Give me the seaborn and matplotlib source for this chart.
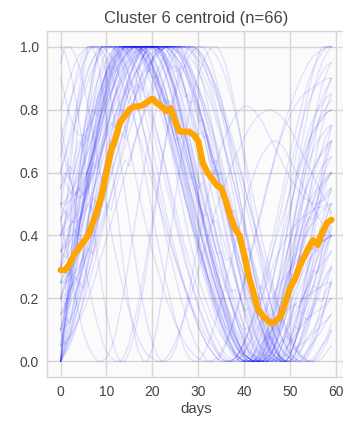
import numpy as np
import pandas as pd
import matplotlib
matplotlib.use("Agg")
import matplotlib.pyplot as plt
import seaborn as sns

title = "Cluster 6 centroid (n=66)"
xlabel = "days"
x_ticks = [0, 10, 20, 30, 40, 50, 60]
y_ticks = [0.0, 0.2, 0.4, 0.6, 0.8, 1.0]

days = list(range(60))

centroid = [0.29, 0.29, 0.31, 0.34, 0.36, 0.38, 0.40, 0.44, 0.48, 0.53,
            0.60, 0.67, 0.71, 0.76, 0.78, 0.80, 0.81, 0.81, 0.815, 0.825,
            0.835, 0.82, 0.81, 0.795, 0.805, 0.76, 0.73, 0.73, 0.73, 0.72,
            0.70, 0.63, 0.60, 0.58, 0.56, 0.55, 0.51, 0.46, 0.42, 0.40,
            0.34, 0.27, 0.22, 0.165, 0.145, 0.13, 0.12, 0.13, 0.145, 0.19,
            0.235, 0.26, 0.30, 0.33, 0.36, 0.385, 0.37, 0.41, 0.44, 0.45]

# member series, values in percent
members_pct = [
    [0,8,17,26,35,44,53,62,71,79, 86,92,96,99,100,100,100,100,99,97, 94,90,86,81,76,70,64,58,52,46, 40,34,28,23,18,13,9,5,2,0, 0,2,5,9,14,19,25,31,37,43, 49,55,60,65,69,73,76,79,81,83],
    [30,32,35,39,44,50,56,62,68,74, 80,85,90,94,97,99,100,100,100,100, 100,100,99,97,94,90,86,81,76,70, 64,58,52,46,40,34,29,24,19,15, 11,7,4,2,0,0,1,3,6,10, 14,18,22,26,30,34,38,42,46,50],
    [60,66,72,78,84,89,93,96,98,100, 100,100,100,100,100,99,97,94,90,85, 79,73,67,60,53,46,40,34,28,23, 18,14,10,7,4,2,1,0,0,1, 3,6,10,15,21,27,34,41,48,55, 61,67,73,78,82,86,89,92,94,95],
    [0,4,8,13,18,23,28,33,38,43, 48,53,58,63,68,73,78,83,88,92, 96,99,100,100,100,100,98,95,91,87, 82,77,72,66,60,54,48,42,36,30, 25,20,15,11,8,5,3,1,0,0, 0,2,5,8,12,16,20,24,27,30],
    [45,50,55,61,67,73,79,84,89,93, 96,98,100,100,100,100,100,99,97,94, 90,86,81,76,71,65,59,53,47,41, 35,30,25,20,16,12,9,6,3,1, 0,0,2,5,9,13,18,23,28,33, 38,43,48,53,57,61,64,67,69,70],
    [20,18,22,27,25,31,36,34,40,45, 50,48,55,60,64,62,69,74,78,82, 86,89,93,95,98,100,100,100,100,98, 95,91,88,83,78,73,67,61,55,48, 41,35,28,22,16,11,6,3,1,0, 2,6,10,15,20,24,29,33,37,40],
    [80,85,90,94,97,99,100,100,100,100, 99,97,94,90,86,82,77,72,67,62, 57,52,47,42,37,32,28,24,20,16, 13,10,7,5,3,1,0,0,1,3, 6,10,15,20,26,32,38,45,52,59, 66,72,78,84,89,93,96,98,100,100],
    [0,10,20,31,42,53,63,72,80,87, 93,97,100,100,100,100,100,100,100,100, 100,100,98,94,89,83,77,70,63,56, 49,43,37,31,26,21,16,12,8,5, 3,1,0,0,0,2,5,9,13,18, 23,28,33,37,41,45,48,51,53,55],
    [35,36,38,41,45,49,54,59,64,69, 74,78,82,86,90,93,96,98,100,100, 100,100,100,100,99,97,95,92,88,84, 80,75,70,65,60,54,48,43,37,32, 27,22,18,14,10,7,4,2,1,0, 0,0,1,2,4,6,8,10,13,15],
    [10,14,12,19,25,23,31,38,44,50, 58,65,71,78,84,90,94,98,100,100, 100,100,98,95,90,86,80,74,69,63, 57,51,46,40,35,29,24,19,14,10, 7,4,2,0,0,0,3,7,12,18, 25,32,39,46,52,58,63,68,72,75],
    [50,47,45,44,45,47,50,54,58,63, 68,73,78,83,87,91,94,97,99,100, 100,100,100,100,100,100,98,96,93,89, 85,81,76,71,66,60,54,48,42,36, 30,24,19,14,10,6,3,1,0,0, 2,6,11,16,22,28,33,38,42,45],
    [5,12,20,28,37,46,55,64,73,81, 88,93,97,100,100,100,100,100,99,97, 94,90,85,80,74,68,62,56,50,44, 38,32,27,22,17,12,8,5,2,0, 0,0,2,6,11,17,24,31,39,47, 55,63,71,79,86,92,97,100,100,100],
    [25,25,26,28,30,33,37,41,45,50, 55,60,65,70,74,78,82,86,89,92, 95,97,99,100,100,100,100,100,100,99, 98,96,93,90,86,81,76,70,64,58, 52,46,40,34,28,22,17,12,8,5, 2,1,0,0,0,1,3,5,7,10],
    [0,12,25,38,52,65,77,88,96,100, 100,100,99,96,91,85,78,71,63,55, 47,39,32,25,19,13,8,4,1,0, 0,2,5,9,14,19,25,31,37,43, 49,54,59,63,66,68,70,70,69,67, 64,61,58,55,52,49,46,44,42,40],
    [100,98,93,86,77,67,56,45,34,24, 15,8,3,0,0,3,8,15,23,32, 42,52,62,71,80,87,93,97,100,100, 100,100,98,94,89,83,76,68,60,52, 44,36,29,22,16,11,7,4,1,0, 0,2,5,9,14,19,25,31,37,43],
    [40,43,47,52,57,62,67,72,77,82, 86,90,93,96,98,100,100,100,100,100, 100,98,95,91,86,81,75,69,63,57, 51,45,39,33,28,23,18,13,9,5, 2,0,0,0,1,4,8,13,18,24, 30,35,40,44,48,51,54,56,58,60],
    [15,17,20,24,29,34,40,46,52,58, 64,70,76,81,86,90,94,97,99,100, 100,100,100,100,100,99,97,94,90,85, 79,73,67,61,54,47,40,33,27,21, 15,10,6,3,1,0,0,1,4,9, 16,24,33,42,51,60,68,75,81,85],
    [0,3,6,10,14,19,24,29,35,41, 47,53,59,65,71,77,83,88,93,97, 100,100,100,100,100,100,100,97,93,88, 82,76,70,63,56,49,42,35,28,22, 16,11,7,4,2,0,0,0,2,5, 9,13,17,21,25,29,33,36,39,42],
    [55,58,62,60,66,72,70,77,83,88, 92,96,99,100,100,100,99,96,97,93, 90,91,86,82,83,77,71,72,66,60, 55,57,50,44,45,38,32,33,27,21, 16,17,11,6,3,0,1,0,4,8, 7,12,16,15,20,24,23,28,32,35],
    [20,26,32,38,45,52,59,66,73,80, 86,91,95,98,100,100,100,100,100,99, 97,94,90,85,79,73,67,61,55,49, 43,37,31,25,20,15,10,6,3,1, 0,0,0,2,5,9,13,17,21,25, 29,33,36,39,42,44,46,48,49,50],
    [70,76,82,87,91,95,98,100,100,100, 100,100,99,97,94,90,85,80,74,68, 62,56,50,44,38,33,28,23,19,15, 11,8,5,3,1,0,0,0,1,3, 6,10,14,19,24,29,34,39,44,49, 54,58,62,66,70,73,75,77,79,80],
    [0,2,5,9,14,20,27,34,42,50, 58,66,73,80,86,91,95,98,100,100, 100,100,100,100,99,97,95,92,89,85, 81,76,71,66,61,55,49,43,38,32, 27,22,17,13,9,6,3,1,0,0, 0,1,3,5,8,10,13,15,18,20],
    [30,45,60,74,86,95,100,100,96,88, 77,65,52,39,27,17,9,3,0,0, 4,11,20,30,41,52,62,71,79,86, 91,95,98,100,100,98,94,88,81,73, 64,55,46,38,30,23,17,12,8,5, 3,1,0,0,2,5,9,14,20,26],
    [10,16,23,31,40,49,58,67,75,82, 88,93,97,99,100,100,100,100,98,96, 93,89,85,80,75,70,65,59,54,48, 43,38,33,28,23,19,15,11,8,5, 3,1,0,0,0,1,3,7,12,18, 25,32,39,45,50,55,59,62,64,65],
    [40,41,43,45,48,51,55,59,63,67, 71,75,79,82,85,88,91,93,95,97, 98,99,100,100,100,100,100,99,97,95, 92,89,85,81,76,71,66,61,55,49, 43,37,31,25,20,15,11,7,4,2, 1,0,0,1,4,8,13,19,25,30],
    [0,14,29,44,58,71,82,91,97,100, 100,100,100,100,100,98,95,91,86,80, 74,68,62,56,50,44,38,32,27,22, 17,13,9,6,3,1,0,0,0,1, 3,5,8,11,14,17,20,23,25,27, 29,31,33,34,35,36,37,38,39,40],
    [60,57,54,53,54,57,61,66,71,76, 81,86,90,94,97,99,100,100,100,100, 100,100,99,96,92,87,81,75,68,61, 54,47,40,34,28,22,17,12,8,5, 2,1,0,0,0,2,6,12,19,27, 36,45,54,62,69,75,80,84,87,90],
    [25,29,27,34,39,37,45,52,50,58, 65,70,68,76,82,87,85,92,97,100, 100,99,100,96,93,94,88,84,85,78, 72,73,66,60,61,54,48,49,42,36, 30,31,24,18,12,7,8,3,0,2, 6,11,10,17,23,29,28,36,42,48],
    [90,84,78,74,72,72,74,77,81,85, 89,92,95,97,99,100,100,100,99,98, 96,93,89,85,80,74,68,62,56,50, 44,38,33,28,23,18,14,10,7,4, 2,1,0,0,0,2,5,9,13,17, 21,25,29,32,35,38,40,42,44,45],
    [5,6,8,10,13,16,20,24,29,34, 39,44,49,54,59,64,69,74,79,84, 88,92,95,98,100,100,100,100,100,100, 98,95,91,86,80,73,66,58,50,42, 34,27,20,14,9,5,2,0,0,0, 2,6,12,20,29,38,47,56,64,70],
    [50,58,66,74,81,87,92,96,99,100, 100,100,100,98,95,91,86,80,74,67, 60,53,46,39,33,27,21,16,11,7, 4,2,0,0,0,2,5,9,14,19, 25,31,37,43,49,55,61,67,72,77, 81,85,89,92,95,97,98,99,100,100],
    [0,5,11,18,26,34,43,52,61,69, 77,84,90,95,98,100,100,100,100,100, 100,100,100,100,99,96,92,87,81,75, 68,61,54,47,40,34,28,22,17,12, 8,5,2,1,0,0,0,1,4,8, 13,19,25,31,37,43,48,53,57,60],
    [35,38,42,46,51,56,61,66,71,76, 81,85,89,93,96,98,100,100,100,100, 100,100,98,95,91,87,82,77,71,65, 59,53,47,41,35,29,24,19,14,10, 6,3,1,0,0,1,3,6,10,14, 18,22,26,29,32,34,36,38,39,40],
    [15,16,18,21,25,30,35,41,47,53, 59,65,71,76,81,86,90,94,97,99, 100,100,100,100,100,100,99,97,94,91, 87,83,78,73,68,62,56,50,44,38, 32,27,22,17,13,9,6,3,1,0, 0,2,6,11,17,23,29,35,40,45],
    [75,68,60,51,42,33,25,18,12,7, 3,1,0,0,2,6,12,19,27,36, 45,54,63,71,78,85,90,94,97,99, 100,100,100,99,97,94,90,85,79,73, 66,59,52,45,38,32,26,20,15,11, 7,4,2,0,0,0,2,5,8,12],
    [20,24,29,35,42,49,57,65,72,79, 85,90,94,97,99,100,100,100,100,98, 95,91,87,82,76,70,64,57,50,44, 37,31,25,20,15,11,7,4,2,1, 0,0,0,2,5,10,16,23,31,39, 47,55,62,68,73,77,80,82,84,85],
    [45,48,46,51,55,53,58,63,61,67, 72,76,74,80,85,89,87,93,97,100, 100,100,99,100,96,92,93,87,82,83, 77,71,72,65,59,60,53,47,48,41, 35,36,29,23,24,17,11,6,0,3, 7,6,10,14,13,17,20,19,23,25],
    [0,20,42,62,79,92,99,100,100,97, 91,83,74,64,54,44,35,26,18,11, 6,2,0,0,1,4,9,15,22,30, 38,45,52,58,63,68,72,75,78,80, 81,81,80,78,76,73,70,67,64,61, 58,56,54,52,51,50,50,51,52,54],
    [30,36,43,50,57,64,71,77,83,88, 92,95,98,100,100,100,100,99,97,94, 90,86,81,76,70,64,58,52,46,40, 34,28,23,18,13,9,6,3,1,0, 0,0,1,3,6,10,14,19,24,29, 34,39,43,47,50,53,55,57,59,60],
    [10,11,13,16,20,25,31,37,44,51, 58,65,71,77,82,87,91,94,97,99, 100,100,100,100,100,100,100,98,95,91, 86,81,75,69,62,55,48,41,34,28, 22,17,12,8,5,2,1,0,0,1, 4,9,16,24,33,42,51,60,68,75],
    [65,73,81,88,94,98,100,100,100,99, 96,92,87,81,75,68,61,54,47,41, 35,30,25,20,16,12,9,6,4,2, 1,0,0,0,1,3,6,10,15,20, 26,32,38,44,50,56,61,66,71,75, 78,81,83,85,86,87,88,89,90,90],
    [0,4,9,15,22,30,38,47,56,65, 73,80,86,91,95,98,100,100,100,100, 100,99,97,94,90,85,79,73,67,60, 53,46,40,34,28,23,18,14,10,7, 4,2,1,0,0,0,1,3,6,9, 12,15,18,21,24,27,29,31,33,35],
    [40,45,51,57,63,69,75,81,86,91, 95,98,100,100,100,100,100,99,97,95, 92,89,86,82,78,74,70,66,61,56, 51,46,41,36,31,27,23,19,15,12, 9,7,5,3,2,1,0,0,1,2, 3,4,5,6,7,9,10,12,13,15],
    [25,28,32,37,43,49,56,63,70,77, 83,88,92,95,97,99,100,100,100,100, 100,100,98,95,91,86,80,73,66,59, 52,45,38,31,25,19,14,9,5,2, 0,0,0,1,4,8,14,21,29,38, 47,56,65,73,80,86,91,95,98,100],
    [50,50,51,53,55,58,61,65,69,73, 77,81,85,88,91,94,96,98,99,100, 100,100,100,100,100,99,98,96,93,90, 87,83,79,74,69,64,58,52,46,40, 34,28,23,18,13,9,6,3,1,0, 0,0,2,6,11,17,23,29,35,40],
    [10,5,8,15,24,34,45,56,66,75, 83,90,95,98,100,100,100,100,100,98, 94,89,83,76,69,61,53,46,39,33, 27,22,18,14,11,8,6,4,2,1, 0,0,0,1,3,6,10,14,19,24, 29,34,38,42,45,48,50,52,54,55],
    [95,100,100,98,94,88,81,73,65,57, 49,41,34,27,21,16,11,7,4,2, 1,0,0,1,3,6,10,14,19,24, 29,34,39,44,49,53,57,61,65,68, 71,74,76,78,79,80,80,79,78,76, 74,71,68,65,62,59,56,53,50,47],
    [0,6,13,20,28,36,44,52,60,67, 74,80,85,90,94,97,99,100,100,100, 100,99,97,94,90,85,79,73,66,59, 52,45,38,32,26,20,15,11,7,4, 2,1,0,0,0,1,3,6,10,15, 21,27,33,39,45,51,56,61,66,70],
    [35,33,38,42,40,45,50,48,54,59, 57,63,68,73,71,78,83,88,86,92, 96,100,99,100,100,97,93,94,88,82, 76,77,70,63,64,57,50,43,44,37, 30,24,17,18,11,5,0,3,7,6, 12,18,17,24,30,36,35,42,47,50],
    [60,65,70,75,80,85,89,93,96,98, 100,100,100,100,99,97,94,91,87,82, 77,72,67,61,55,49,43,37,32,27, 22,18,14,10,7,4,2,1,0,0, 0,1,2,4,6,8,10,12,14,16, 17,18,19,20,21,22,23,24,25,25],
    [20,21,23,25,28,31,35,39,44,49, 54,59,64,69,74,79,83,87,91,94, 96,98,99,100,100,100,100,100,100,100, 99,97,94,91,87,83,78,73,68,62, 56,50,44,38,32,27,22,17,13,9, 6,4,2,1,0,0,0,1,3,5],
    [5,13,22,32,42,52,62,71,79,86, 92,96,99,100,100,100,100,98,95,91, 87,83,78,73,68,63,58,52,47,42, 37,32,27,23,19,15,11,8,5,3, 1,0,0,0,2,5,10,16,23,31, 39,47,54,61,66,71,75,78,79,80],
    [45,38,30,22,15,9,5,2,0,0, 1,4,9,16,24,33,42,51,60,68, 75,81,86,91,95,98,100,100,100,100, 99,97,94,90,85,79,73,66,59,52, 45,38,32,26,20,15,11,7,4,2, 1,0,0,1,3,6,10,15,20,25],
    [30,35,41,48,55,62,69,76,82,87, 91,94,97,99,100,100,100,100,99,97, 94,91,87,83,78,73,68,62,56,50, 44,38,32,27,22,17,13,9,6,3, 1,0,0,0,1,3,6,10,15,21, 28,36,44,52,60,68,75,81,86,90],
    [0,3,7,12,18,25,33,41,49,57, 65,72,79,85,90,94,97,99,100,100, 100,100,100,99,97,94,91,87,82,77, 71,65,59,53,47,41,36,31,26,21, 17,13,9,6,4,2,1,0,0,0, 1,3,6,10,14,18,22,25,28,30],
    [55,60,58,65,70,68,75,80,78,85, 90,94,92,97,100,100,98,100,96,92, 93,87,82,83,76,70,71,64,58,59, 52,46,47,40,34,35,28,22,23,16, 10,11,4,0,2,6,11,10,16,22, 28,27,34,40,46,45,52,58,62,65],
    [15,18,22,27,33,39,46,53,60,67, 73,79,84,88,92,95,97,99,100,100, 100,100,100,100,98,95,91,86,80,73, 66,59,52,45,38,32,26,20,15,10, 6,3,1,0,0,0,2,5,9,14, 20,26,32,38,43,48,52,55,58,60],
    [40,44,49,55,61,67,73,79,84,88, 92,95,97,99,100,100,100,100,100,99, 97,94,90,85,79,73,67,60,53,46, 39,33,27,21,16,12,8,5,3,1, 0,0,0,1,3,7,12,18,25,32, 39,46,52,58,63,67,70,72,74,75],
    [0,12,24,36,48,60,71,81,89,95, 99,100,100,100,100,100,100,100,100,100, 100,100,100,100,100,100,100,100,99,97, 93,88,82,75,67,59,51,43,35,28, 21,15,10,6,3,1,0,0,1,3, 7,11,16,21,26,31,35,39,42,45],
    [25,26,28,31,34,38,42,46,51,56, 61,66,71,75,79,83,86,89,92,94, 96,98,99,100,100,100,100,100,99,98, 96,94,91,88,84,80,76,71,66,61, 56,50,45,40,34,29,24,19,15,11, 8,5,3,1,0,0,1,3,6,10],
    [70,64,58,54,52,53,56,60,65,70, 75,80,85,89,93,96,98,100,100,100, 100,98,95,91,86,80,74,67,60,53, 46,40,34,28,23,18,13,9,6,3, 1,0,0,0,2,5,9,13,17,21, 25,28,31,33,35,36,37,38,39,40],
    [10,17,25,33,42,51,60,69,77,84, 90,95,98,100,100,100,100,100,98,95, 91,87,82,77,72,66,60,54,48,42, 37,32,27,22,18,14,11,8,5,3, 2,1,0,0,0,0,2,6,12,19, 28,38,48,58,67,75,82,88,92,95],
    [50,51,53,56,59,63,67,71,75,79, 83,86,89,92,94,96,98,99,100,100, 100,100,100,100,100,99,97,94,90,86, 81,76,70,64,58,52,46,40,34,28, 23,18,14,10,7,4,2,1,0,0, 2,6,12,18,25,32,39,45,50,55],
    [0,15,30,45,59,72,83,91,97,100, 100,100,100,100,99,96,92,87,81,75, 68,61,54,47,41,35,29,24,19,15, 11,8,5,3,1,0,0,0,1,3, 6,9,13,17,21,25,29,33,36,39, 41,43,45,46,47,48,49,49,50,50],
    [20,24,29,35,42,50,58,66,74,81, 87,92,96,98,100,100,100,100,100,100, 99,97,94,90,85,80,74,68,62,56, 50,44,38,33,28,23,19,15,11,8, 5,3,2,1,0,0,0,1,2,4, 6,8,10,12,14,15,16,17,19,20],
    [35,37,40,44,49,55,61,67,73,79, 84,88,92,95,97,99,100,100,100,100, 100,100,99,97,94,90,85,79,72,65, 58,51,44,37,30,24,18,13,9,5, 2,1,0,0,1,3,7,12,18,25, 32,39,46,52,57,61,64,66,68,70],
]

rows = []
for i, s in enumerate(members_pct):
    for d, v in zip(days, s):
        rows.append((i, d, v / 100.0))
df = pd.DataFrame(rows, columns=["series", "day", "value"])
cdf = pd.DataFrame({"day": days, "value": centroid})

sns.set_theme(style="whitegrid")
plt.rcParams["font.family"] = ["Liberation Sans", "DejaVu Sans"]

fig = plt.figure(figsize=(3.43, 4.22), dpi=100)
ax = fig.add_axes([47 / 343, 45 / 422, 298 / 343, 346 / 422])
ax.set_facecolor("#fbfbfb")

sns.lineplot(data=df, x="day", y="value", units="series", estimator=None,
             color="blue", alpha=0.1, linewidth=1.0, ax=ax, legend=False)
sns.lineplot(data=cdf, x="day", y="value", color="orange", linewidth=4.5,
             ax=ax, legend=False)

ax.set_xlim(-2.95, 61.95)
ax.set_ylim(-0.05, 1.05)
ax.set_xticks(x_ticks)
ax.set_yticks(y_ticks)
ax.set_yticklabels([f"{t:.1f}" for t in y_ticks])
ax.tick_params(axis="both", labelsize=10, colors="#444444", length=0, pad=6)
ax.grid(True, color="#d6d6d6", linewidth=1.0)
for sp in ax.spines.values():
    sp.set_color("#d6d6d6")
    sp.set_linewidth(1.0)
ax.set_xlabel(xlabel, fontsize=10.8, color="#444444", labelpad=2)
ax.set_ylabel("")
ax.set_title(title, fontsize=12, color="#444444", pad=6)

fig.savefig("out.png", dpi=100)
